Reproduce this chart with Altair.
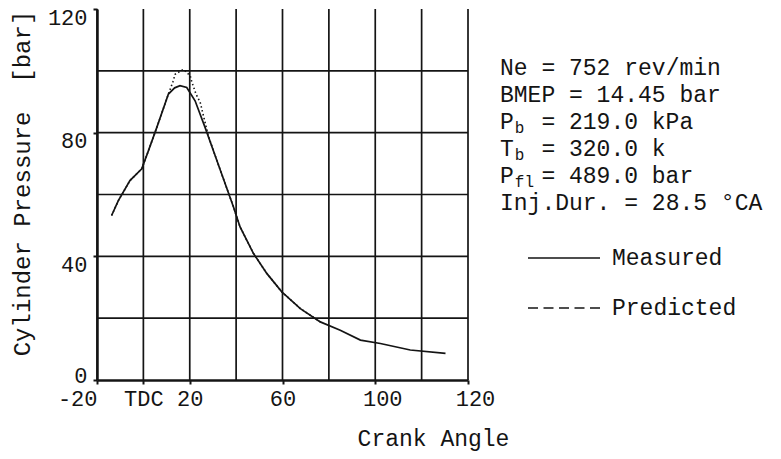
import altair as alt
import pandas as pd

# ---- data ----
meas_x = [-13.7, -10.8, -5.8, -0.7, 2.2, 5.8, 10.8, 13.5, 15.8, 18.7, 22.3, 26.6, 31.7,
          38.9, 41.7, 47.5, 53.3, 59.7, 67.7, 76.3, 84.9, 93.6, 102.2, 115.1, 130.3]
meas_y = [53.2, 58.0, 64.5, 68.3, 74.2, 81.7, 92.5, 94.5, 95.2, 94.6, 90.3, 81.7, 71.0,
          55.9, 49.5, 40.9, 34.4, 28.5, 23.1, 18.8, 16.1, 12.9, 11.8, 9.7, 8.6]
pred_x = [-13.7, -10.8, -5.8, -0.7, 2.2, 5.8, 10.8, 12.7, 13.7, 17.3, 20.2, 20.9, 22.7,
          24.5, 25.9, 28.0, 31.7, 38.9, 41.7, 47.5, 53.3, 59.7, 67.7, 76.3]
pred_y = [53.2, 58.0, 64.5, 68.3, 74.2, 81.7, 92.5, 96.4, 98.9, 100.5, 98.4, 96.4, 92.5,
          89.8, 85.5, 79.0, 71.0, 55.9, 49.5, 40.9, 34.4, 28.5, 23.1, 18.8]

grid_x = [-20, 0, 20, 40, 60, 80, 100, 120, 140]
grid_y = [20, 40, 60, 80, 100]
x_tick_values = [-20, 0, 20, 60, 100, 140]
x_tick_labels = ["-20", "TDC", "20", "60", "100", "120"]
y_tick_values = [0, 40, 80, 120]

# annotation rows: symbol, subscript, remainder (remainder starts at column 3
# when there is a subscript)
info_symbol = ["Ne", "BMEP", "P", "T", "P", "Inj.Dur."]
info_sub = ["", "", "b", "b", "fl", ""]
info_rest = ["= 752 rev/min", "= 14.45 bar", "= 219.0 kPa", "= 320.0 k",
             "= 489.0 bar", "= 28.5 \u00b0CA"]
legend_labels = ["Measured", "Predicted"]
x_title = "Crank Angle"
y_title = "Cylinder Pressure  [bar]"

FONT = "Liberation Mono"
INK = "#141414"
W, H = 371, 371


def keep_spaces(s):
    return s.replace(" ", "\u00a0")


label_expr = " : ".join(
    [f"datum.value == {v} ? '{l}'" for v, l in zip(x_tick_values, x_tick_labels)]
) + " : datum.label"

xs = alt.Scale(domain=[-20, 140], nice=False, zero=False)
ys = alt.Scale(domain=[0, 120], nice=False, zero=False)

x_axis = alt.Axis(values=x_tick_values, labelExpr=label_expr, title=x_title,
                  grid=False, domainColor=INK, domainWidth=2.5, tickColor=INK,
                  tickWidth=2, tickSize=4, labelFont=FONT, labelFontSize=22,
                  labelColor=INK, labelPadding=4,
                  labelAlign={"condition": {"test": "datum.value == -20", "value": "right"},
                              "value": "center"},
                  labelOffset={"condition": {"test": "datum.value >= 100", "value": 7},
                               "value": 0},
                  titleFont=FONT, titleFontSize=23, titleFontWeight="normal",
                  titleColor=INK, titleX=336, titleY=58, titleAlign="center",
                  titleBaseline="middle")
y_axis = alt.Axis(values=y_tick_values, title=keep_spaces(y_title), grid=False,
                  domainColor=INK, domainWidth=2.5, tickColor=INK, tickWidth=2,
                  tickSize=4, labelFont=FONT, labelFontSize=22, labelColor=INK,
                  labelPadding=6,
                  labelOffset={"condition": {"test": "datum.value == 0", "value": -5},
                               "value": 8},
                  titleFont=FONT, titleFontSize=24, titleFontWeight="normal",
                  titleColor=INK, titleX=-75, titleY=174, titleAlign="center",
                  titleBaseline="middle")

vgrid = alt.Chart(pd.DataFrame({"g": grid_x})).mark_rule(
    color=INK, strokeWidth=1.7).encode(x=alt.X("g:Q", scale=xs, axis=x_axis))
hgrid = alt.Chart(pd.DataFrame({"g": grid_y})).mark_rule(
    color=INK, strokeWidth=1.7).encode(y=alt.Y("g:Q", scale=ys, axis=y_axis))

meas = alt.Chart(pd.DataFrame({"x": meas_x, "y": meas_y})).mark_line(
    color=INK, strokeWidth=1.7).encode(
    x=alt.X("x:Q", scale=xs, axis=x_axis), y=alt.Y("y:Q", scale=ys, axis=y_axis))
pred = alt.Chart(pd.DataFrame({"x": pred_x, "y": pred_y})).mark_line(
    color=INK, strokeWidth=1.6, strokeDash=[1.5, 2.5]).encode(
    x=alt.X("x:Q", scale=xs, axis=x_axis), y=alt.Y("y:Q", scale=ys, axis=y_axis))

layers = [vgrid, hgrid, pred, meas]

# annotation block on the right
FS = 23
CW = FS * 0.6
X0, Y0, DY = 403, 59, 27


def text_layer(s, x, y, size):
    return alt.Chart(pd.DataFrame({"t": [keep_spaces(s)]})).mark_text(
        font=FONT, fontSize=size, color=INK, align="left", baseline="middle").encode(
        x=alt.value(x), y=alt.value(y), text="t:N")


for i, (sym, sub, rest) in enumerate(zip(info_symbol, info_sub, info_rest)):
    y = Y0 + DY * i
    if sub:
        layers.append(text_layer(sym, X0, y, FS))
        layers.append(text_layer(sub, X0 + CW + 1, y + 6, 16))
        layers.append(text_layer(rest, X0 + 3 * CW, y, FS))
    else:
        layers.append(text_layer(sym + " " + rest, X0, y, FS))

# legend
LY = [249, 299]
dashes = [[1, 0], [10, 5.5]]
for lab, ly, d in zip(legend_labels, LY, dashes):
    layers.append(alt.Chart(pd.DataFrame({"t": [lab]})).mark_rule(
        color=INK, strokeWidth=1.6, strokeDash=d).encode(
        x=alt.value(431), x2=alt.value(503), y=alt.value(ly)))
    layers.append(text_layer(lab, 515, ly, FS))

chart = alt.layer(*layers).properties(
    width=W, height=H,
    autosize=alt.AutoSizeParams(type="none"),
    padding={"left": 89, "top": 1, "right": 305, "bottom": 71},
    background="white",
).configure_view(stroke=None)

chart.save("out.html", embed_options={"renderer": "svg", "actions": False})
